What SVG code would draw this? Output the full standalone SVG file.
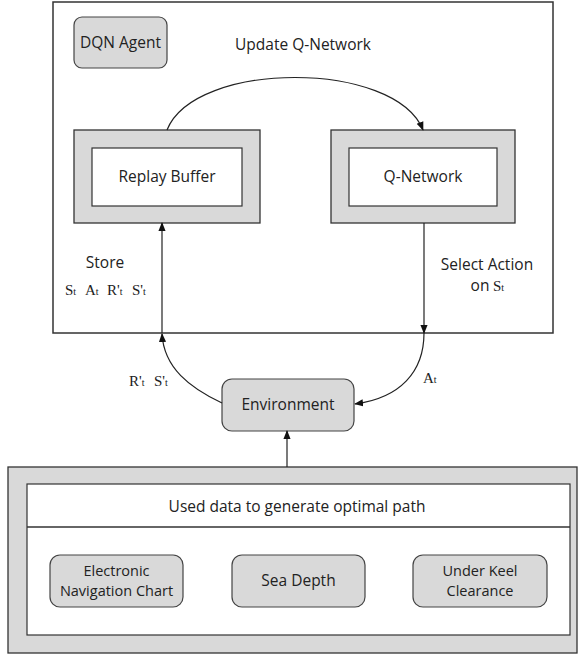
<svg xmlns="http://www.w3.org/2000/svg" width="583" height="656" viewBox="0 0 583 656">
<defs>
<style>
.box{fill:#fff;stroke:#333;stroke-width:1.5}
.gray{fill:#d9d9d9;stroke:#333;stroke-width:1.3}
.inner{fill:#fff;stroke:#333;stroke-width:1.2}
.pill{fill:#d9d9d9;stroke:#444;stroke-width:1.2}
.t{font-family:"Open Sans","Noto Sans",sans-serif;font-size:15.5px;fill:#222;text-anchor:middle}
.t2{font-size:14.5px}
.s{font-family:"Liberation Serif",serif;font-size:15px;fill:#222}
.sub{font-size:10px}
.edge{fill:none;stroke:#222;stroke-width:1.2}
</style>
<marker id="arr" viewBox="0 0 10 10" refX="9" refY="5" markerWidth="9" markerHeight="9" markerUnits="userSpaceOnUse" orient="auto">
<path d="M0,1 L10,5 L0,9 Z" fill="#111"/>
</marker>
</defs>
<rect width="583" height="656" fill="#fff"/>

<g id="agent">
<rect class="box" x="53" y="2" width="500" height="331"/>
</g>
<g id="dqn-agent">
<rect class="pill" x="74" y="17" width="93" height="51" rx="8"/>
<text class="t" x="120.5" y="48">DQN Agent</text>
</g>
<g id="replay-buffer">
<rect class="gray" x="74" y="130" width="186" height="93"/>
<rect class="inner" x="92" y="148" width="150" height="58"/>
<text class="t" x="167" y="182">Replay Buffer</text>
</g>
<g id="q-network">
<rect class="gray" x="331" y="130" width="184" height="93"/>
<rect class="inner" x="349" y="148" width="148" height="58"/>
<text class="t" x="423" y="182">Q-Network</text>
</g>
<g id="environment">
<rect class="pill" x="222" y="379" width="132" height="52" rx="10"/>
<text class="t" x="288" y="410">Environment</text>
</g>
<g id="data">
<rect class="gray" x="8" y="467" width="569" height="186"/>
<rect class="inner" x="27" y="484" width="543" height="151"/>
<line x1="27" y1="527" x2="570" y2="527" stroke="#333" stroke-width="1.3"/>
<text class="t" x="297" y="512">Used data to generate optimal path</text>
</g>
<g id="enc">
<rect class="pill" x="50" y="555" width="133" height="52" rx="10"/>
<text class="t t2" x="116.5" y="576">Electronic</text>
<text class="t t2" x="116.5" y="596">Navigation Chart</text>
</g>
<g id="sea-depth">
<rect class="pill" x="232" y="555" width="133" height="52" rx="10"/>
<text class="t" x="298.5" y="586">Sea Depth</text>
</g>
<g id="ukc">
<rect class="pill" x="413" y="555" width="134" height="52" rx="10"/>
<text class="t t2" x="480" y="576">Under Keel</text>
<text class="t t2" x="480" y="596">Clearance</text>
</g>

<g id="connectors">
<path class="edge" d="M167,130 C195,60 395,60 423,130" marker-end="url(#arr)"/>
<line class="edge" x1="162" y1="333" x2="162" y2="223" marker-end="url(#arr)"/>
<path class="edge" d="M222,403 C190,388 164,368 162,334" marker-end="url(#arr)"/>
<line class="edge" x1="424" y1="223" x2="424" y2="333" marker-end="url(#arr)"/>
<path class="edge" d="M424,333 C424,372 400,398 355,404" marker-end="url(#arr)"/>
<line class="edge" x1="287" y1="467" x2="287" y2="431" marker-end="url(#arr)"/>
</g>

<g id="labels">
<text class="t" x="303" y="50">Update Q-Network</text>
<text class="t" x="105" y="268">Store</text>
<text class="s" y="295"><tspan x="65">S</tspan><tspan class="sub">t</tspan><tspan x="85">A</tspan><tspan class="sub">t</tspan><tspan x="107">R'</tspan><tspan class="sub">t</tspan><tspan x="132">S'</tspan><tspan class="sub">t</tspan></text>
<text class="t" x="487" y="270">Select Action</text>
<text class="t" x="480" y="291">on</text>
<text class="s" x="493" y="291">S<tspan class="sub">t</tspan></text>
<text class="s" y="386"><tspan x="129">R'</tspan><tspan class="sub">t</tspan><tspan x="154">S'</tspan><tspan class="sub">t</tspan></text>
<text class="s" x="423" y="383">A<tspan class="sub">t</tspan></text>
</g>
</svg>
